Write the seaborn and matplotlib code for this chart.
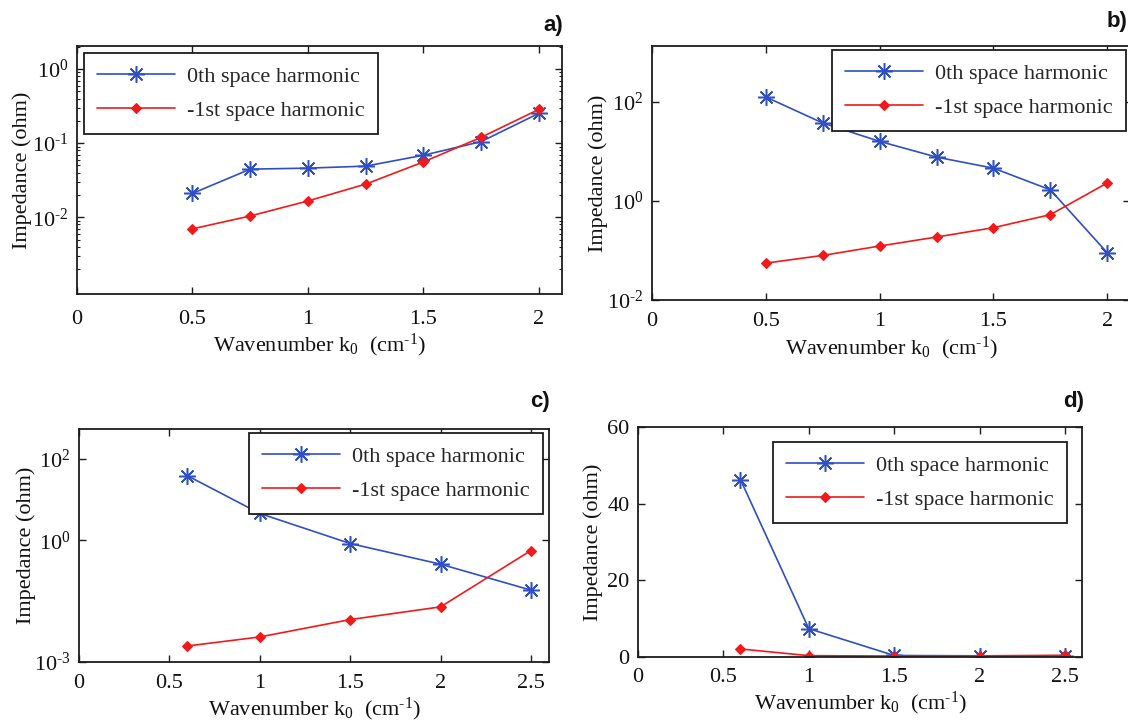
import numpy as np
import pandas as pd
import matplotlib
matplotlib.use("Agg")
import matplotlib.pyplot as plt
import matplotlib.ticker as mticker
import seaborn as sns

# ---------------- data ----------------
k_ab = [0.5, 0.75, 1.0, 1.25, 1.5, 1.75, 2.0]
a_zeroth = [0.021, 0.0446, 0.046, 0.049, 0.0687, 0.105, 0.253]
a_minus1 = [0.00697, 0.0104, 0.0166, 0.028, 0.0558, 0.12, 0.286]

b_zeroth = [126, 37.6, 16.0, 7.7, 4.6, 1.68, 0.09]
b_minus1 = [0.0556, 0.0795, 0.123, 0.187, 0.289, 0.529, 2.31]

k_cd = [0.6, 1.0, 1.5, 2.0, 2.5]
c_zeroth = [38.8, 4.57, 0.83, 0.257, 0.059]
c_minus1 = [0.00248, 0.00414, 0.0111, 0.0228, 0.558]

d_zeroth = [46.3, 7.4, 0.4, 0.3, 0.3]
d_minus1 = [2.1, 0.35, 0.25, 0.3, 0.45]

series_labels = ["0th space harmonic", "-1st space harmonic"]
panel_tags = ["a)", "b)", "c)", "d)"]
ylabel_text = "Impedance (ohm)"
xlabel_text = r"Wavenumber k$_0$  (cm$^{\text{-}1}$)"

# ---------------- style ----------------
sns.set_theme(style="ticks")
plt.rcParams["font.family"] = ["Liberation Serif", "DejaVu Serif"]
plt.rcParams["mathtext.fontset"] = "custom"
plt.rcParams["mathtext.rm"] = "Liberation Serif"
plt.rcParams["mathtext.it"] = "Liberation Serif"
plt.rcParams["mathtext.default"] = "regular"

BLUE = "#2f4fc2"
RED = "#f01a1a"
FRAME = "#1c1c1c"
FS = 16

W, H = 1128, 721
fig = plt.figure(figsize=(W / 100, H / 100), dpi=100)
fig.patch.set_facecolor("white")


def add_ax(l, r, t, b):
    return fig.add_axes([l / W, 1 - b / H, (r - l) / W, (b - t) / H])


ax_a = add_ax(77, 562, 46, 294)
ax_b = add_ax(652, 1130, 46, 300)
ax_c = add_ax(79, 549, 429, 662)
ax_d = add_ax(638, 1082, 427, 657)

ASTER = (8, 2, 0)


def draw(ax, k, zeroth, minus1):
    df = pd.DataFrame({"k": list(k) * 2,
                       "Z": list(zeroth) + list(minus1),
                       "s": [series_labels[0]] * len(k) + [series_labels[1]] * len(k)})
    sns.lineplot(data=df[df.s == series_labels[0]], x="k", y="Z", ax=ax,
                 color=BLUE, lw=1.2, marker=ASTER, markersize=12,
                 markeredgecolor=BLUE, markeredgewidth=1.1,
                 label=series_labels[0], estimator=None, sort=False)
    sns.lineplot(data=df[df.s == series_labels[1]], x="k", y="Z", ax=ax,
                 color=RED, lw=1.2, marker="D", markersize=5,
                 markeredgecolor=RED, markerfacecolor=RED, markeredgewidth=0.8,
                 label=series_labels[1], estimator=None, sort=False)


draw(ax_a, k_ab, a_zeroth, a_minus1)
draw(ax_b, k_ab, b_zeroth, b_minus1)
draw(ax_c, k_cd, c_zeroth, c_minus1)
draw(ax_d, k_cd, d_zeroth, d_minus1)


def log_fmt(v, p):
    e = int(round(np.log10(v)))
    if e < 0:
        return r"$10^{\text{-}%d}$" % (-e)
    return r"$10^{%d}$" % e


for ax in (ax_a, ax_b, ax_c):
    ax.set_yscale("log")
    ax.yaxis.set_major_formatter(mticker.FuncFormatter(log_fmt))

ax_a.set_xlim(0, 2.1)
ax_a.set_ylim(9.2e-4, 2.05)
ax_a.set_yticks([1e-2, 1e-1, 1e0])
ax_a.yaxis.set_minor_locator(mticker.LogLocator(base=10, subs=np.arange(2, 10)))
ax_a.yaxis.set_minor_formatter(mticker.NullFormatter())
ax_a.set_xticks([0, 0.5, 1, 1.5, 2])

ax_b.set_xlim(0, 2.1)
ax_b.set_ylim(1e-2, 1.35e3)
ax_b.set_yticks([1e-2, 1e0, 1e2])
ax_b.yaxis.set_minor_locator(mticker.NullLocator())
ax_b.set_xticks([0, 0.5, 1, 1.5, 2])

ax_c.set_xlim(0, 2.6)
ax_c.set_ylim(1e-3, 5.5e2)
ax_c.set_yticks([1e-3, 1e0, 1e2])
ax_c.yaxis.set_minor_locator(mticker.NullLocator())
ax_c.set_xticks([0, 0.5, 1, 1.5, 2, 2.5])

ax_d.set_xlim(0, 2.6)
ax_d.set_ylim(0, 60)
ax_d.set_yticks([0, 20, 40, 60])
ax_d.set_xticks([0, 0.5, 1, 1.5, 2, 2.5])

xfmt = mticker.FuncFormatter(lambda v, p: ("%g" % v))
legend_anchor = {
    ax_a: ("upper left", (0.0144, 0.972)),
    ax_b: ("upper right", (0.9916, 0.984)),
    ax_c: ("upper right", (0.987, 0.983)),
    ax_d: ("upper right", (0.967, 0.935)),
}
ylab_x = {ax_a: -0.093, ax_b: -0.092, ax_c: -0.091, ax_d: -0.079}
xpad = {ax_a: 11.5, ax_b: 9, ax_c: 8.5, ax_d: 8}

for ax in (ax_a, ax_b, ax_c, ax_d):
    ax.set_facecolor("white")
    ax.xaxis.set_major_formatter(xfmt)
    for sp in ax.spines.values():
        sp.set_visible(True)
        sp.set_color(FRAME)
        sp.set_linewidth(1.3)
    ax.tick_params(axis="both", which="major", direction="in", length=5, width=1.0,
                   color=FRAME, labelsize=FS, top=True, right=True, pad=6,
                   labelcolor="#111111")
    ax.tick_params(axis="x", which="major", pad=xpad[ax])
    ax.tick_params(axis="both", which="minor", direction="in", length=2.5, width=0.8,
                   color=FRAME, top=True, right=True)
    ax.set_xlabel(xlabel_text, fontsize=FS, labelpad=2, color="#111111")
    ax.set_ylabel(ylabel_text, fontsize=FS, color="#111111")
    ax.yaxis.set_label_coords(ylab_x[ax], 0.5)
    ax.grid(False)
    loc, anchor = legend_anchor[ax]
    leg = ax.legend(loc=loc, bbox_to_anchor=anchor, borderaxespad=0,
                    fontsize=FS, frameon=True, fancybox=False, shadow=False,
                    framealpha=1, edgecolor=FRAME, handlelength=3.5,
                    handletextpad=0.55, labelspacing=0.6, borderpad=0.6)
    leg.get_frame().set_linewidth(1.3)

tag_font = dict(fontsize=16, fontweight="bold", family=["Liberation Sans", "DejaVu Sans"],
                color="#111111", va="center")
fig.text(563 / W, 1 - 25 / H, panel_tags[0], ha="right", **tag_font)
fig.text(1107 / W, 1 - 21 / H, panel_tags[1], ha="left", **tag_font)
fig.text(550 / W, 1 - 402 / H, panel_tags[2], ha="right", **tag_font)
fig.text(1084 / W, 1 - 402 / H, panel_tags[3], ha="right", **tag_font)

fig.savefig("out.png", dpi=100, facecolor="white")
